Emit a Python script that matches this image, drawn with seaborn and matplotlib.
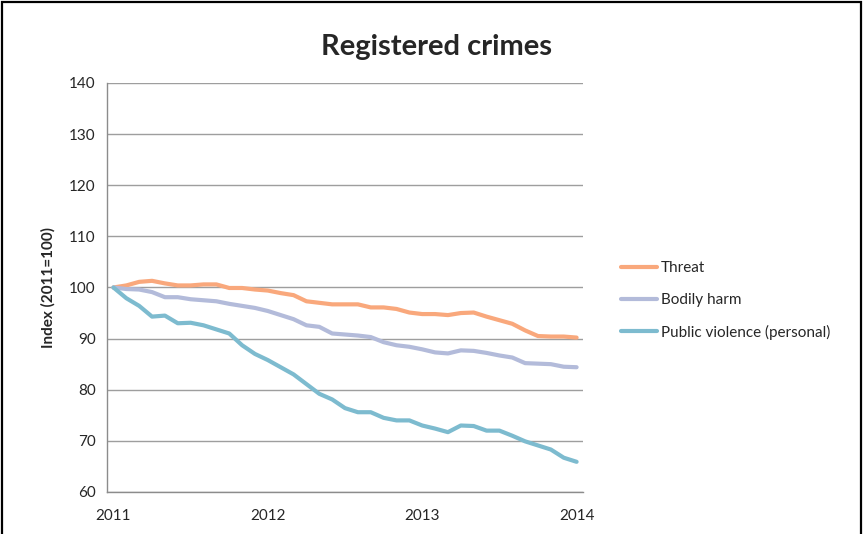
import numpy as np
import pandas as pd
import matplotlib.pyplot as plt
import matplotlib.ticker as tkr
from matplotlib.patches import Rectangle
import seaborn as sns

# monthly index, Jan 2011 .. Jan 2014 (2011=100)
months = list(range(37))
threat = [100.0, 100.4, 101.1, 101.3, 100.8, 100.4, 100.4, 100.6, 100.6, 99.9,
          99.9, 99.6, 99.4, 98.9, 98.5, 97.3, 97.0, 96.7, 96.7, 96.7,
          96.1, 96.1, 95.8, 95.1, 94.8, 94.8, 94.6, 95.0, 95.1, 94.3,
          93.6, 92.9, 91.6, 90.5, 90.4, 90.4, 90.2]
bodily_harm = [100.0, 99.7, 99.6, 99.1, 98.1, 98.1, 97.7, 97.5, 97.3, 96.8,
               96.4, 96.0, 95.4, 94.6, 93.8, 92.6, 92.3, 91.0, 90.8, 90.6,
               90.3, 89.3, 88.7, 88.4, 87.9, 87.3, 87.1, 87.7, 87.6, 87.2,
               86.7, 86.3, 85.2, 85.1, 85.0, 84.5, 84.4]
public_violence = [100.0, 97.9, 96.4, 94.3, 94.5, 93.0, 93.1, 92.6, 91.8, 91.0,
                   88.7, 87.0, 85.8, 84.4, 83.0, 81.1, 79.2, 78.1, 76.4, 75.6,
                   75.6, 74.5, 74.0, 74.0, 73.0, 72.4, 71.7, 73.0, 72.9, 72.0,
                   72.0, 71.0, 69.9, 69.1, 68.3, 66.7, 65.9]
series_names = ["Threat", "Bodily harm", "Public violence (personal)"]
year_labels = ["2011", "2012", "2013", "2014"]

df = pd.DataFrame({
    "month": months * 3,
    "value": threat + bodily_harm + public_violence,
    "series": np.repeat(series_names, len(months)),
})

sns.set_style("white")
plt.rcParams['font.family'] = ['Lato', 'DejaVu Sans']

fig = plt.figure(figsize=(8.63, 5.34), dpi=100)
ax = fig.add_axes([0.124, 0.0787, 0.5516, 0.7659])

palette = ["#F9A87C", "#B3BBDA", "#7DBBCF"]
sns.lineplot(data=df, x="month", y="value", hue="series", palette=palette,
             linewidth=3.0, ax=ax)

ax.set_xlim(-0.5, 36.5)
ax.set_ylim(60, 140)
ax.yaxis.set_major_locator(tkr.MultipleLocator(10))
ax.grid(axis="y", color="#9E9E9E", linewidth=1)
ax.set_axisbelow(True)

ax.set_xticks([0, 12, 24, 36])
ax.set_xticklabels(year_labels)
ax.xaxis.set_minor_locator(tkr.FixedLocator(np.arange(-0.5, 37, 1)))
ax.tick_params(axis="x", which="major", length=0, pad=12, labelsize=11)
ax.tick_params(axis="x", which="minor", length=5, color="#8C8C8C", direction="out")
ax.tick_params(axis="y", length=5, color="#8C8C8C", direction="out", labelsize=11, pad=3)

for s in ["top", "right"]:
    ax.spines[s].set_visible(False)
for s in ["left", "bottom"]:
    ax.spines[s].set_color("#8C8C8C")
    ax.spines[s].set_linewidth(1)

ax.set_xlabel("")
ax.set_ylabel("Index (2011=100)", fontsize=11, fontweight="bold", labelpad=10)

fig.suptitle("Registered crimes", x=0.506, y=0.937, fontsize=21, fontweight="bold")

ax.legend(title=None, frameon=False, loc="center left",
          bbox_to_anchor=(1.05, 0.468), fontsize=11,
          handlelength=2.4, handletextpad=0.25, labelspacing=1.15)

fig.patches.append(Rectangle((0.002, -0.1), 0.996, 1.097, transform=fig.transFigure,
                             fill=False, edgecolor="black", linewidth=1.6))

fig.savefig("out.png", dpi=100)
